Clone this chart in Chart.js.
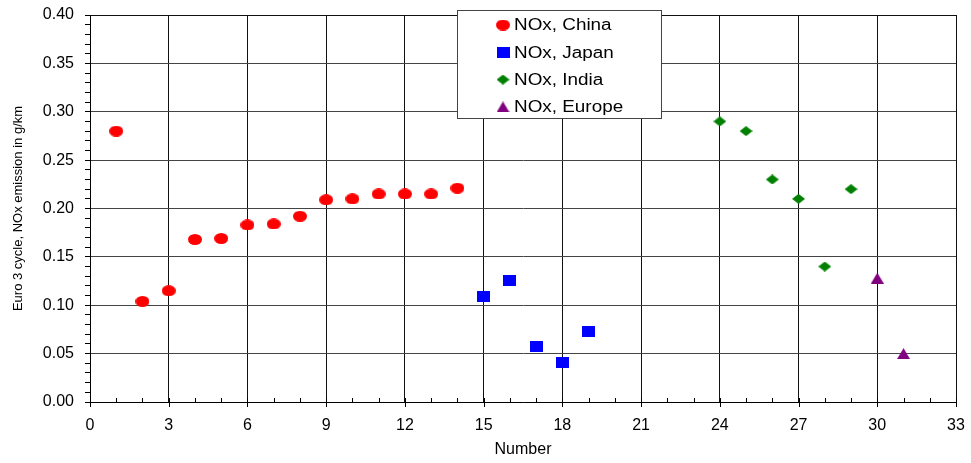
<!DOCTYPE html>
<html>
<head>
<meta charset="utf-8">
<script src="https://cdn.jsdelivr.net/npm/chart.js@4/dist/chart.umd.min.js"></script>
<style>
  body { margin: 0; background: #fff; }
  canvas { display: block; }
</style>
</head>
<body>
<canvas id="noxChart" width="971" height="463"></canvas>
<script>
// vehicle number on x, Euro 3 NOx emission (g/km) on y
const chinaX = [1, 2, 3, 4, 5, 6, 7, 8, 9, 10, 11, 12, 13, 14];
const chinaY = [0.280, 0.104, 0.115, 0.168, 0.169, 0.183, 0.184, 0.192, 0.209, 0.210, 0.215, 0.215, 0.215, 0.221];
const japanX = [15, 16, 17, 18, 19];
const japanY = [0.109, 0.126, 0.057, 0.041, 0.073];
const indiaX = [24, 25, 26, 27, 28, 29];
const indiaY = [0.290, 0.280, 0.230, 0.210, 0.140, 0.220];
const europeX = [30, 31];
const europeY = [0.128, 0.050];
const seriesNames = ['NOx, China', 'NOx, Japan', 'NOx, India', 'NOx, Europe'];

const FONT = '"Liberation Sans", Arial, sans-serif';

// small sprites for the markers (slightly wide, like the old plot)
function sprite(w, h, color, draw) {
    const c = document.createElement('canvas');
    c.width = w; c.height = h;
    const g = c.getContext('2d');
    g.fillStyle = color;
    g.beginPath();
    draw(g, w, h);
    g.fill();
    return c;
}
const dot = sprite(14, 11, '#ff0000', (g, w, h) => g.ellipse(w / 2, h / 2, w / 2, h / 2, 0, 0, Math.PI * 2));
const square = sprite(13, 11, '#0000ff', (g, w, h) => g.rect(0, 0, w, h));
const diamond = sprite(13, 10, '#008000', (g, w, h) => {
    g.moveTo(w / 2, 0); g.lineTo(w, h / 2); g.lineTo(w / 2, h); g.lineTo(0, h / 2); g.closePath();
});
const triangle = sprite(13, 11, '#800080', (g, w, h) => {
    g.moveTo(w / 2, 0); g.lineTo(w, h); g.lineTo(0, h); g.closePath();
});

function pts(xs, ys) {
    return xs.map((x, i) => ({ x: x, y: ys[i] }));
}

const markers = [dot, square, diamond, triangle];
const data = {
    datasets: [
        { label: seriesNames[0], data: pts(chinaX, chinaY), pointStyle: dot },
        { label: seriesNames[1], data: pts(japanX, japanY), pointStyle: square },
        { label: seriesNames[2], data: pts(indiaX, indiaY), pointStyle: diamond },
        { label: seriesNames[3], data: pts(europeX, europeY), pointStyle: triangle }
    ]
};

const isMajorY = v => Math.round(v * 100) % 5 === 0;
const isMajorX = v => Math.round(v) % 3 === 0;

// tick marks on the x axis: minors inside, majors cross the axis
const xTicks = {
    id: 'xTicks',
    afterDatasetsDraw(chart) {
        const ctx = chart.ctx;
        const sx = chart.scales.x;
        const bottom = chart.chartArea.bottom;
        ctx.save();
        ctx.strokeStyle = '#000';
        ctx.lineWidth = 1;
        sx.ticks.forEach(t => {
            const px = Math.round(sx.getPixelForValue(t.value)) + 0.5;
            ctx.beginPath();
            ctx.moveTo(px, bottom - 4);
            ctx.lineTo(px, bottom + (isMajorX(t.value) ? 5 : 0));
            ctx.stroke();
        });
        ctx.restore();
    }
};

// boxed legend sitting inside the plot
const boxLegend = {
    id: 'boxLegend',
    afterDraw(chart) {
        const ctx = chart.ctx;
        const area = chart.chartArea;
        const left = area.left + 367, top = area.top - 5, w = 204, h = 108;
        ctx.save();
        ctx.fillStyle = '#fff';
        ctx.fillRect(left, top, w, h);
        ctx.strokeStyle = '#444';
        ctx.lineWidth = 1;
        ctx.strokeRect(left + 0.5, top + 0.5, w, h);
        ctx.font = '16px ' + FONT;
        ctx.fillStyle = '#000';
        ctx.textBaseline = 'middle';
        seriesNames.forEach((name, i) => {
            const cy = top + 15 + i * 27.3;
            const m = markers[i];
            ctx.drawImage(m, left + 46 - m.width / 2, cy - m.height / 2);
            ctx.save();
            ctx.translate(left + 57, cy);
            ctx.scale(1.18, 1);
            ctx.fillText(name, 0, 1);
            ctx.restore();
        });
        ctx.restore();
    }
};

new Chart(document.getElementById('noxChart'), {
    type: 'scatter',
    data: data,
    plugins: [xTicks, boxLegend],
    options: {
        responsive: false,
        animation: false,
        devicePixelRatio: 1,
        layout: { padding: { top: 15, right: 15, left: 0, bottom: 0 } },
        elements: { point: { radius: 6, hoverRadius: 6 } },
        plugins: {
            legend: { display: false },
            tooltip: { enabled: false }
        },
        scales: {
            x: {
                type: 'linear',
                min: 0,
                max: 33,
                afterFit: s => { s.height = 61; s.paddingLeft = 0; s.paddingRight = 0; },
                border: { color: '#000', width: 1 },
                grid: {
                    drawTicks: false,
                    color: c => isMajorX(c.tick.value) ? '#111' : 'rgba(0,0,0,0)',
                    lineWidth: 1
                },
                ticks: {
                    stepSize: 1,
                    autoSkip: false,
                    maxRotation: 0,
                    padding: 14,
                    color: '#000',
                    font: { family: FONT, size: 16 },
                    callback: v => isMajorX(v) ? String(v) : ''
                },
                title: {
                    display: true,
                    text: 'Number',
                    color: '#000',
                    font: { family: FONT, size: 16 },
                    padding: { top: 2, bottom: 4 }
                }
            },
            y: {
                min: 0,
                max: 0.4,
                afterFit: s => { s.width = 90; s.paddingTop = 0; s.paddingBottom = 0; },
                border: { color: '#000', width: 1 },
                grid: {
                    color: c => c.tick.value >= 0.399 ? '#111' : (isMajorY(c.tick.value) ? '#444' : 'rgba(0,0,0,0)'),
                    tickColor: '#000',
                    tickLength: 5,
                    lineWidth: 1
                },
                ticks: {
                    stepSize: 0.01,
                    autoSkip: false,
                    padding: 11,
                    color: '#000',
                    font: { family: FONT, size: 16 },
                    callback: v => isMajorY(v) ? v.toFixed(2) : ''
                },
                title: {
                    display: true,
                    text: 'Euro 3 cycle, NOx emission in g/km',
                    color: '#000',
                    font: { family: FONT, size: 13 },
                    padding: { top: 11, bottom: 0 }
                }
            }
        }
    }
});
</script>
</body>
</html>
